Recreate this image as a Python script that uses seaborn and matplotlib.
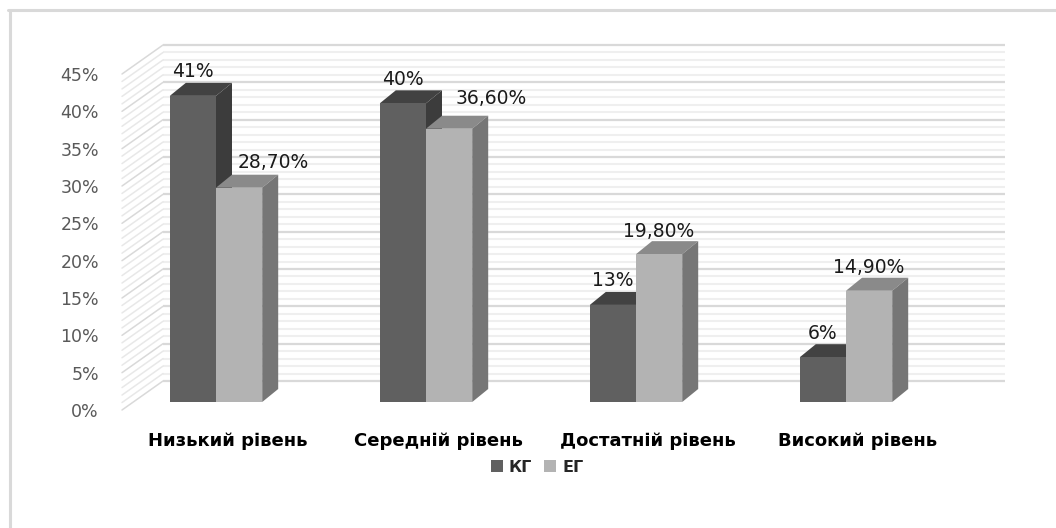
import matplotlib
matplotlib.use("Agg")
import matplotlib.pyplot as plt
import matplotlib.transforms as mtransforms
from matplotlib.patches import Polygon, Patch
from matplotlib.lines import Line2D
import numpy as np
import pandas as pd
import seaborn as sns

# ---- data ----
categories = ["Низький рівень", "Середній рівень", "Достатній рівень", "Високий рівень"]
groups = ["КГ", "ЕГ"]
kg_values = [41, 40, 13, 6]
eg_values = [28.7, 36.6, 19.8, 14.9]
y_ticks = [0, 5, 10, 15, 20, 25, 30, 35, 40, 45]

# ---- style ----
sns.set_theme(style="white")
plt.rcParams["font.family"] = ["DejaVu Sans"]

front_colors = {"КГ": "#606060", "ЕГ": "#b3b3b3"}
top_colors = {"КГ": "#424242", "ЕГ": "#8a8a8a"}
side_colors = {"КГ": "#3c3c3c", "ЕГ": "#767676"}
major_grid = "#d9d9d9"
minor_grid = "#efefef"

# depth offsets in pixels (display coords, y up)
BAR_DEPTH = (16, 13)
WALL_OFF = (30, 21)
FRONT_OFF = (-11, -8)
# label nudges (pixels) per series
kg_nudge = [(0, 24), (0, 24), (0, 24), (0, 24)]
eg_nudge = [(34, 25), (42, 30), (0, 23), (0, 23)]

W, H, DPI = 1056, 528, 100
fig = plt.figure(figsize=(W / DPI, H / DPI), dpi=DPI)
fig.patch.set_facecolor("white")

left_px, right_px = 133, 975
base_px, top_px = 402, 66
ax = fig.add_axes([left_px / W, (H - base_px) / H,
                   (right_px - left_px) / W, (base_px - top_px) / H])
ax.patch.set_alpha(0)

df = pd.DataFrame({
    "level": categories * 2,
    "group": [groups[0]] * len(categories) + [groups[1]] * len(categories),
    "value": kg_values + eg_values,
})

sns.barplot(data=df, x="level", y="value", hue="group", hue_order=groups,
            palette=front_colors, width=0.44, saturation=1, dodge=True,
            linewidth=0, legend=False, ax=ax, zorder=3)

cat_px = 210.0
x_left = -(216 - left_px) / cat_px
x_right = (right_px - 216) / cat_px
ax.set_xlim(x_left, x_right)
ax.set_ylim(0, 45)
for s in ax.spines.values():
    s.set_visible(False)
ax.set_xlabel("")
ax.set_ylabel("")

# ---- back wall grid ----
wall_tr = mtransforms.offset_copy(ax.transData, fig=fig, x=WALL_OFF[0], y=WALL_OFF[1], units="dots")
levels = np.arange(0, 46)
minor = [v for v in levels if v % 5]
major = [v for v in levels if v % 5 == 0]
ax.hlines(minor, x_left, x_right, colors=minor_grid, linewidth=1.5, transform=wall_tr, zorder=0.5, clip_on=False)
ax.hlines(major, x_left, x_right, colors=major_grid, linewidth=1.6, transform=wall_tr, zorder=0.6, clip_on=False)

# ---- side wall diagonals ----
ident = mtransforms.IdentityTransform()
for v in levels:
    px, py = ax.transData.transform((x_left, v))
    col = major_grid if v % 5 == 0 else "#e8e8e8"
    ax.add_line(Line2D([px + FRONT_OFF[0], px + WALL_OFF[0]],
                       [py + FRONT_OFF[1], py + WALL_OFF[1]],
                       color=col, linewidth=1.1, transform=ident, zorder=0.7, clip_on=False))

# ---- 3D faces of the bars ----
dx, dy = BAR_DEPTH
for grp, cont in zip(groups, ax.containers):
    for p in cont.patches:
        x0, w, h = p.get_x(), p.get_width(), p.get_height()
        A = ax.transData.transform((x0, h))
        B = ax.transData.transform((x0 + w, h))
        C = ax.transData.transform((x0 + w, 0))
        top = [A, B, (B[0] + dx, B[1] + dy), (A[0] + dx, A[1] + dy)]
        side = [B, (B[0] + dx, B[1] + dy), (C[0] + dx, C[1] + dy), C]
        ax.add_patch(Polygon(top, closed=True, facecolor=top_colors[grp], edgecolor="none",
                             transform=ident, zorder=2, clip_on=False))
        ax.add_patch(Polygon(side, closed=True, facecolor=side_colors[grp], edgecolor="none",
                             transform=ident, zorder=2, clip_on=False))

# ---- value labels ----
def fmt_kg(v):
    return f"{v:.0f}%"

def fmt_eg(v):
    return f"{v:.2f}%".replace(".", ",")

for cont, fmt, nudges in [(ax.containers[0], fmt_kg, kg_nudge), (ax.containers[1], fmt_eg, eg_nudge)]:
    for p, (nx, ny) in zip(cont.patches, nudges):
        xc = p.get_x() + p.get_width() / 2
        h = p.get_height()
        ax.annotate(fmt(h), (xc, h), xytext=(nx, ny), textcoords="offset pixels",
                    ha="center", va="center", fontsize=13.5, color="#1a1a1a",
                    annotation_clip=False, zorder=5)

# ---- y tick labels on the front plane ----
ax.set_yticks(y_ticks)
ax.set_yticklabels([f"{t}%" for t in y_ticks])
ax.tick_params(axis="y", length=0, pad=24.5, labelsize=12.5, labelcolor="#595959")
shift_y = mtransforms.ScaledTranslation(0, FRONT_OFF[1] / DPI, fig.dpi_scale_trans)
for lab in ax.get_yticklabels():
    lab.set_transform(lab.get_transform() + shift_y)

# ---- category labels ----
ax.tick_params(axis="x", length=0, pad=0)
ax.set_xticks(range(len(categories)))
ax.set_xticklabels(categories, fontsize=13, fontweight="bold", color="#000000")
shift_x = mtransforms.ScaledTranslation(12 / DPI, -39 / DPI, fig.dpi_scale_trans)
for lab in ax.get_xticklabels():
    lab.set_transform(lab.get_transform() + shift_x)
    lab.set_va("center")

# ---- legend ----
handles = [Patch(facecolor=front_colors[g], edgecolor="none") for g in groups]
fig.legend(handles, groups, loc="center", bbox_to_anchor=(537 / W, 1 - 467 / H), ncol=2,
           frameon=False, prop=dict(weight="bold", size=11.5), handlelength=0.75,
           handleheight=0.75, handletextpad=0.35, columnspacing=0.8)

# ---- chart frame ----
fig.add_artist(Line2D([9.5 / W, 9.5 / W], [0, 1 - 9.5 / H], transform=fig.transFigure,
                      color="#d9d9d9", linewidth=2.2))
fig.add_artist(Line2D([8 / W, 1], [1 - 9.5 / H, 1 - 9.5 / H], transform=fig.transFigure,
                      color="#d9d9d9", linewidth=2.2))

fig.savefig("out.png", dpi=DPI, facecolor="white")
